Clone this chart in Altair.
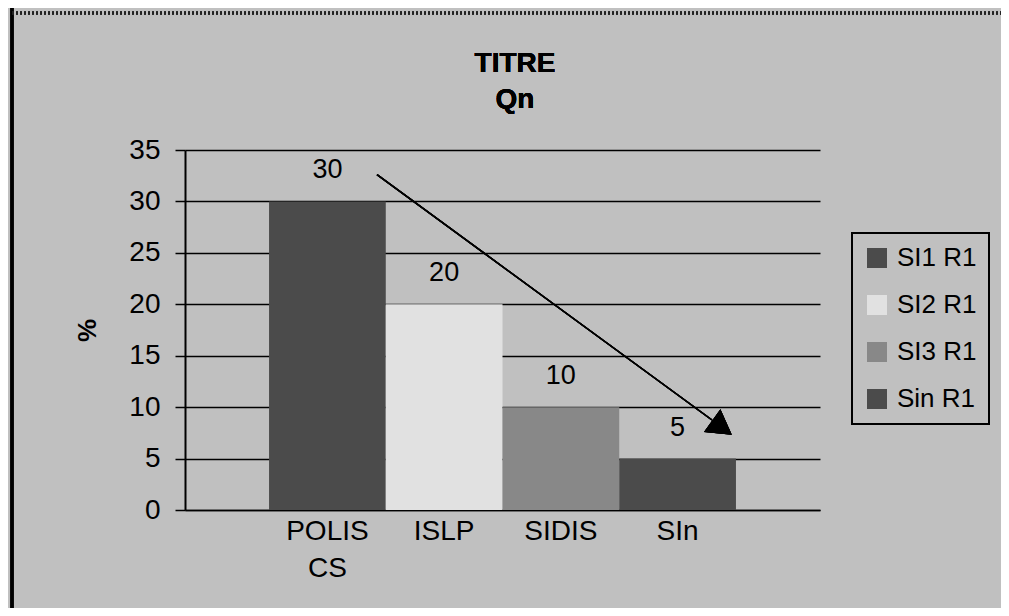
import altair as alt
import pandas as pd

# ---- data ----
categories = ["POLIS CS", "ISLP", "SIDIS", "SIn"]
series = ["SI1 R1", "SI2 R1", "SI3 R1", "Sin R1"]
values = [30, 20, 10, 5]
colors = ["#4b4b4b", "#e1e1e1", "#888888", "#4b4b4b"]
y_ticks = [0, 5, 10, 15, 20, 25, 30, 35]
title_lines = ["TITRE", "Qn"]
y_title = "%"
arrow_start_value = 32.6
arrow_end_value = 8.75
arrow_head_value = 8.0

df = pd.DataFrame({"cat": categories, "series": series, "value": values})

FONT = "Liberation Sans"
W, H = 635, 360
BG = "#c0c0c0"

x_enc = alt.X(
    "cat:N",
    sort=categories,
    title=None,
    scale=alt.Scale(paddingInner=0, paddingOuter=0.72),
    axis=alt.Axis(
        labelExpr="split(datum.label, ' ')",
        labelFontSize=28,
        labelLineHeight=37,
        labelPadding=7,
        labelAngle=0,
        ticks=False,
        domainColor="black",
        domainWidth=1.5,
        labelColor="black",
        labelFont=FONT,
    ),
)
y_enc = alt.Y(
    "value:Q",
    scale=alt.Scale(domain=[0, 35], nice=False),
    title=y_title,
    axis=alt.Axis(
        values=y_ticks,
        grid=True,
        gridColor="black",
        gridWidth=1.5,
        gridOpacity=1,
        domainColor="black",
        domainWidth=2,
        tickColor="black",
        tickWidth=1.5,
        tickSize=10,
        labelFontSize=28,
        labelFont=FONT,
        labelColor="black",
        labelPadding=15,
        titleFont=FONT,
        titleFontSize=26,
        titleFontWeight="bold",
        titleColor="black",
        titleX=-98,
        titleY=180,
        titleAngle=-90,
        titleAlign="center",
        titleBaseline="middle",
    ),
)

base = alt.Chart(df)

bars = base.mark_bar(stroke=None).encode(
    x=x_enc,
    y=y_enc,
    color=alt.Color(
        "series:N",
        sort=series,
        scale=alt.Scale(domain=series, range=colors),
        legend=alt.Legend(
            title=None,
            orient="none",
            legendX=667,
            legendY=83,
            padding=12,
            symbolType="square",
            symbolSize=400,
            symbolStrokeWidth=0,
            symbolOpacity=1,
            labelFontSize=26,
            labelFont=FONT,
            labelColor="black",
            labelOffset=7,
            rowPadding=21,
            fillColor=BG,
            strokeColor="black",
        ),
    ),
)

labels = base.mark_text(
    dy=-31, baseline="middle", align="center", fontSize=27, font=FONT, color="black"
).encode(x=alt.X("cat:N", sort=categories), y="value:Q", text="value:Q")

arrow_line = alt.Chart(df).mark_rule(color="black", strokeWidth=1.5).encode(
    x=alt.value(192),
    x2=alt.value(527),
    y=alt.Y(datum=arrow_start_value),
    y2=alt.Y2(datum=arrow_end_value),
)
arrow_head = alt.Chart(df).mark_point(
    shape="triangle-right", size=780, filled=True, color="black", opacity=1, angle=36
).encode(x=alt.value(537), y=alt.Y(datum=arrow_head_value))

# chart title (two bold lines), centred as in the reference
title_text = alt.Chart(df).mark_text(
    fontSize=28, font=FONT, fontWeight="bold", color="black",
    align="center", baseline="top", lineHeight=36,
).encode(x=alt.value(330), y=alt.value(-100), text=alt.value(title_lines))

# sheet-edge decorations (left border line, dotted top border)
left_border = alt.Chart(df).mark_rule(color="black", strokeWidth=3).encode(
    x=alt.value(-173), y=alt.value(-142), y2=alt.value(458)
)
top_border = alt.Chart(df).mark_rule(color="#222222", strokeWidth=3, strokeDash=[2, 2]).encode(
    x=alt.value(-173), x2=alt.value(816), y=alt.value(-137)
)

chart = alt.layer(
    bars, labels, arrow_line, arrow_head, title_text, left_border, top_border
).properties(
    width=W,
    height=H,
    autosize=alt.AutoSizeParams(type="none"),
    padding={"left": 177, "top": 142, "right": 181, "bottom": 98},
).configure(background=BG).configure_view(stroke=None).configure_legend(strokeWidth=2)

chart.save("out.html", embed_options={"renderer": "svg", "actions": False})
